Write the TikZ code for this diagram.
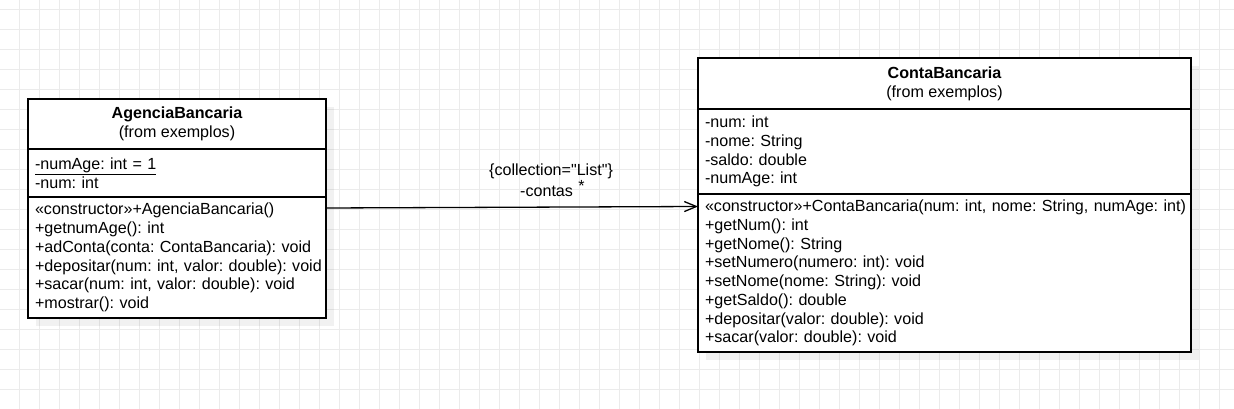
\documentclass[tikz,border=0pt]{standalone}
\usepackage{fontspec}
\setmainfont{Liberation Sans}[Ligatures=TeXOff]
\usetikzlibrary{positioning}
\usetikzlibrary{arrows.meta}
\pgfdeclarelayer{background}
\pgfdeclarelayer{shadow}
\pgfsetlayers{background,shadow,main}
\definecolor{gridgray}{HTML}{EBEBEB}
\def\agw{298pt}
\def\ctw{493pt}
\tikzset{
    gridline/.style = {draw=gridgray, line width=1pt},
    umlpart/.style = {
        draw, rectangle, line width=1.4pt, fill=white, outer sep=0pt, inner ysep=0pt
    },
    umlhead/.style = {umlpart, align=center},
    umlbody/.style = {umlpart, align=left, execute at begin node={\rightskip=0pt minus 30pt\relax}},
    boxshadow/.style = {fill=black, fill opacity=0.055},
    assoc/.style = {line width=1.3pt, -{Straight Barb[length=12pt, width=10pt, line width=1.3pt]}},
}
\frenchspacing

\begin{document}
\begin{tikzpicture}[x=1pt, y=-1pt, font=\fontsize{16.1}{18.75}\selectfont]
        \useasboundingbox (0,0) rectangle (1234,409);
        % Grid 
        \begin{pgfonlayer}{background}
            \fill[white] (0,0) rectangle (1234,409);
            \foreach \gx in {19.5,39.5,...,1220}{
                \draw[gridline] (\gx,0) -- (\gx,409);
            }
            \foreach \gy in {9.5,29.5,...,400}{
                \draw[gridline] (0,\gy) -- (1234,\gy);
            }
        \end{pgfonlayer}

        % Class AgenciaBancaria 
        \node[umlhead, anchor=north west, minimum width=\agw, minimum height=50pt] (ag-head) at (28,99)
            {\textbf{AgenciaBancaria}\\(from exemplos)};
        \node[umlbody, below=0pt of ag-head, minimum width=\agw, minimum height=48pt, text width=284pt, inner xsep=7pt] (ag-attr)
            {\underline{-numAge: int = 1}\\-num: int};
        \node[umlbody, below=0pt of ag-attr, minimum width=\agw, minimum height=121pt, text width=284pt, inner xsep=7pt] (ag-meth)
            {«constructor»+AgenciaBancaria()\\+getnumAge(): int\\+adConta(conta: ContaBancaria): void\\+depositar(num: int, valor: double): void\\+sacar(num: int, valor: double): void\\+mostrar(): void};

        % Class ContaBancaria 
        \node[umlhead, anchor=north west, minimum width=\ctw, minimum height=51pt] (ct-head) at (698,58)
            {\textbf{ContaBancaria}\\(from exemplos)};
        \node[umlbody, below=0pt of ct-head, minimum width=\ctw, minimum height=85pt, text width=479pt, inner xsep=7pt] (ct-attr)
            {-num: int\\-nome: String\\-saldo: double\\-numAge: int};
        \node[umlbody, below=0pt of ct-attr, minimum width=\ctw, minimum height=158pt, text width=479pt, inner xsep=7pt] (ct-meth)
            {«constructor»+ContaBancaria(num: int, nome: String, numAge: int)\\+getNum(): int\\+getNome(): String\\+setNumero(numero: int): void\\+setNome(nome: String): void\\+getSaldo(): double\\+depositar(valor: double): void\\+sacar(valor: double): void};

        % Shadows 
        \begin{pgfonlayer}{shadow}
            \fill[boxshadow] ([shift={(8pt,-8pt)}] ag-head.north west) rectangle ([shift={(8pt,-8pt)}] ag-meth.south east);
            \fill[boxshadow] ([shift={(8pt,-8pt)}] ct-head.north west) rectangle ([shift={(8pt,-8pt)}] ct-meth.south east);
        \end{pgfonlayer}

        % Association 
        \draw[assoc] ([yshift=-11pt] ag-meth.north east) -- 
            node[pos=0.605, yshift=36pt] (role-coll) {\{collection="List"\}}
            node[pos=0.593, yshift=16pt] (role-name) {-contas}
            node[pos=0.687, yshift=21.5pt] (role-mult) {*}
            ([yshift=-12.5pt] ct-meth.north west);
    \end{tikzpicture}
\end{document}
